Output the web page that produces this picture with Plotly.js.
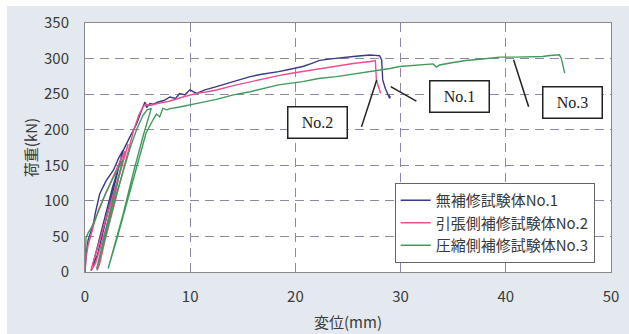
<!DOCTYPE html>
<html>
<head>
<meta charset="utf-8">
<script src="https://cdn.plot.ly/plotly-3.0.1.min.js"></script>
<style>
html,body{margin:0;padding:0;background:#ffffff;}
#chart{position:absolute;left:7px;top:6px;width:622px;height:328px;}
</style>
</head>
<body>
<div id="chart"></div>
<script>
// Series names
const seriesNames = ["無補修試験体No.1", "引張側補修試験体No.2", "圧縮側補修試験体No.3"];

// No.1 (blue)
const x1 = [0, 0.1, 0.3, 0.5, 0.8, 1.0, 1.4, 2.0, 2.7, 3.2, 3.6,
  2.9, 2.0, 1.2, 0.6,
  1.2, 1.9, 2.6, 3.3, 3.64, 4.27, 4.9, 5.4, 5.7, 5.86, 6.17, 6.5, 6.96, 7.5, 8.07, 8.6, 9.0, 9.5, 9.97, 10.6, 11.4, 12.5, 13.5, 14.6, 15.7, 16.8, 17.6, 18.4, 19.5, 20.7, 21.5, 22.3, 23.4, 24.4, 25.5, 26.3, 27.1, 27.6, 28.0, 28.2, 28.3, 28.55, 28.8, 28.96, 28.85, 29.05];
const y1 = [0, 25, 45, 55, 68, 84, 110, 128, 143, 160, 171,
  128, 72, 25, 2,
  38, 80, 118, 152, 171, 190, 208, 228, 239, 231, 236.7, 236, 239, 241, 246, 244, 251, 249, 256, 251, 256, 260.5, 265, 270, 274.6, 278, 279.5, 281.7, 285, 288.9, 293, 297.4, 299.5, 301.5, 303, 304, 305, 304.5, 304, 298, 270, 258, 248.8, 244, 249, 245];

// No.2 (pink)
const x2 = [0, 0.1, 0.3, 0.6, 0.9, 1.3, 1.8, 2.3, 2.9, 3.4, 3.8,
  3.0, 2.0, 1.0, 0.55,
  1.2, 2.0, 2.8, 3.5, 4.1,
  3.2, 2.2, 1.4, 1.15,
  2.0, 3.0, 3.9, 4.6, 5.1, 5.5, 5.8, 6.17, 7.0, 8.0, 9.3, 10.6, 11.5, 12.5, 14.1, 15.7, 17.6, 18.4, 19.5, 20.7, 22.2, 23.9, 25.5, 27.1, 27.6, 27.7, 27.96, 28.1];
const y2 = [0, 20, 38, 55, 70, 88, 105, 122, 140, 158, 170,
  120, 62, 12, 2,
  35, 75, 115, 150, 180,
  132, 64, 12, 2,
  50, 110, 160, 198, 220, 232, 236, 234, 237, 240, 246, 251, 253, 255.8, 262, 267.6, 273.8, 276, 279, 281.7, 285.5, 289.7, 293, 295.8, 297.3, 270, 255.8, 251];

// No.3 (green)
const x3 = [0, 0.03, 0.06, 0.1, 0.3, 0.6, 1.0, 1.5, 2.0, 2.6, 3.2, 3.6,
  2.8, 2.0, 1.3, 1.1,
  1.6, 2.3, 3.0, 3.7, 4.3, 4.9, 5.5, 5.9, 6.3,
  5.6, 4.6, 3.6, 2.8, 2.2,
  3.0, 4.0, 5.0, 5.8, 6.5, 6.8, 7.1, 7.4, 7.8, 8.07, 9.0, 9.97, 11.0, 12.5, 14.1, 15.7, 17.6, 18.4, 20.7, 22.2, 23.9, 25.5, 27.1, 29.0, 29.9, 31.5, 33.1, 33.4, 33.7, 35.0, 36.2, 37.8, 39.4, 41.0, 42.55, 43.5, 44.2, 45.1, 45.27, 45.6];
const y3 = [0, 20, 40, 48, 55, 62, 75, 95, 112, 130, 148, 158,
  110, 60, 15, 4,
  30, 70, 110, 145, 175, 200, 220, 228, 230,
  195, 140, 80, 35, 5,
  45, 100, 155, 195, 215, 222, 218, 230, 228, 229.6, 232, 234.6, 238, 242.6, 249, 253.4, 260.5, 263, 267.6, 272, 274.6, 278, 281.7, 286, 288.8, 290.5, 292.5, 288, 291, 294.5, 297.2, 299.5, 302, 302, 302, 303, 304.3, 305.3, 300.6, 279.5];

// Annotation labels
const labelTexts = ["No.2", "No.1", "No.3"];
const labelX = [22.13, 35.56, 46.33];
const labelY = [210, 246.7, 238.9];
// Pointer lines [x0, y0, x1, y1]
const pointerLines = [
  [26.28, 204, 27.73, 270],
  [31.5, 240.3, 29.06, 260.5],
  [42.17, 232.3, 40.74, 298.2]
];

const colors = ["#3a3a86", "#ec4f8e", "#3f9a5c"];
const xs = [x1, x2, x3], ys = [y1, y2, y3];

const traces = xs.map((x, i) => ({
  x: x, y: ys[i], type: "scatter", mode: "lines", name: seriesNames[i],
  line: {color: colors[i], width: 1.4}
}));

const font = "'Noto Sans CJK JP', 'Noto Sans', sans-serif";

const layout = {
  width: 622, height: 328,
  paper_bgcolor: "#e3e9ef",
  plot_bgcolor: "#ffffff",
  margin: {l: 78, r: 18, t: 17, b: 62},
  font: {family: font, size: 15, color: "#3a3a3a"},
  xaxis: {
    range: [0, 50], dtick: 10, tick0: 0,
    showgrid: true, gridcolor: "#8f86a8", griddash: "9px,6px", gridwidth: 1,
    showline: true, linecolor: "#8a8a8a", linewidth: 1, mirror: true, zeroline: false,
    ticks: "outside", ticklen: 11, tickcolor: "rgba(0,0,0,0)",
    tickfont: {family: font, size: 15, color: "#3a3a3a"},
    title: {text: "変位(mm)", font: {family: font, size: 15, color: "#3a3a3a"}, standoff: 12}
  },
  yaxis: {
    range: [0, 350], dtick: 50, tick0: 0,
    showgrid: true, gridcolor: "#8f86a8", griddash: "9px,6px", gridwidth: 1,
    showline: true, linecolor: "#8a8a8a", linewidth: 1, mirror: true, zeroline: false,
    ticks: "outside", ticklen: 12, tickcolor: "rgba(0,0,0,0)",
    tickfont: {family: font, size: 15, color: "#3a3a3a"},
    title: {text: "荷重(kN)", font: {family: font, size: 15, color: "#3a3a3a"}, standoff: 2}
  },
  legend: {
    x: 0.969, y: 0.036, xanchor: "right", yanchor: "bottom",
    bgcolor: "#ffffff", bordercolor: "#666666", borderwidth: 1,
    font: {family: font, size: 15, color: "#3a3a3a"},
    tracegroupgap: 0, itemwidth: 30
  },
  showlegend: true,
  annotations: labelTexts.map((t, i) => ({
    x: labelX[i], y: labelY[i], xref: "x", yref: "y",
    text: t, showarrow: false,
    font: {family: "'Liberation Serif', serif", size: 16, color: "#222"},
    bgcolor: "#ffffff", bordercolor: "#222", borderwidth: 1.5,
    width: 56, height: 28
  })),
  shapes: pointerLines.map(p => ({
    type: "line", xref: "x", yref: "y",
    x0: p[0], y0: p[1], x1: p[2], y1: p[3],
    line: {color: "#222", width: 1.5}
  }))
};

Plotly.newPlot("chart", traces, layout, {displayModeBar: false, staticPlot: true});
</script>
</body>
</html>
